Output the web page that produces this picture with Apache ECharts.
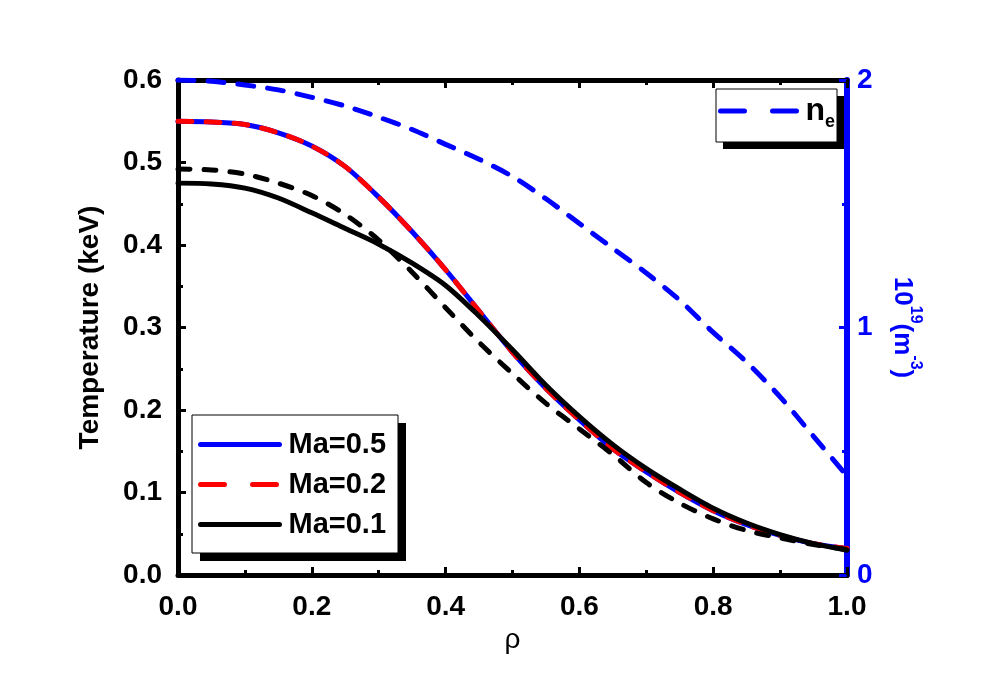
<!DOCTYPE html>
<html>
<head>
<meta charset="utf-8">
<script src="https://cdn.jsdelivr.net/npm/echarts@6/dist/echarts.min.js"></script>
<style>html,body{margin:0;padding:0;background:#fff}#c{width:986px;height:690px}</style>
</head>
<body>
<div id="c"></div>
<script>
const rho = [0,0.05,0.1,0.15,0.2,0.25,0.3,0.35,0.4,0.45,0.5,0.55,0.6,0.65,0.7,0.75,0.8,0.85,0.9,0.95,1.0];
const tMa05 = [0.550,0.549,0.546,0.536,0.520,0.495,0.458,0.416,0.370,0.320,0.270,0.226,0.188,0.153,0.125,0.100,0.078,0.061,0.048,0.038,0.032];
const tMa02 = [0.550,0.549,0.546,0.536,0.520,0.495,0.458,0.416,0.370,0.320,0.270,0.226,0.188,0.153,0.125,0.100,0.078,0.061,0.048,0.038,0.032];
const tMa01 = [0.475,0.474,0.469,0.457,0.439,0.420,0.401,0.378,0.351,0.314,0.273,0.230,0.192,0.158,0.129,0.104,0.081,0.063,0.049,0.038,0.030];
const tMa01dash = [0.492,0.491,0.486,0.475,0.460,0.437,0.406,0.367,0.324,0.282,0.244,0.208,0.177,0.146,0.112,0.087,0.068,0.054,0.045,0.037,0.031];
const ne = [2.00,1.995,1.98,1.96,1.93,1.895,1.85,1.80,1.74,1.68,1.61,1.52,1.42,1.32,1.22,1.11,0.98,0.86,0.72,0.56,0.40];

const pair = arr => rho.map((r,i)=>[r,arr[i]]);
const FONT = 'Liberation Sans';
const chart = echarts.init(document.getElementById('c'), null, {renderer:'canvas'});

const axisCommonX = {
  type:'value', min:0, max:1, interval:0.2,
  splitLine:{show:false},
  axisLine:{show:true, onZero:false, lineStyle:{color:'#000', width:5}},
  axisTick:{show:true, inside:true, length:8, lineStyle:{color:'#000', width:3}},
  minorTick:{show:true, splitNumber:2, length:5, lineStyle:{color:'#000', width:3}},
  minorSplitLine:{show:false}
};

const noDot = {opacity:0};

chart.setOption({
  animation:false,
  backgroundColor:'#fff',
  grid:{left:178, right:139, top:80, bottom:115, containLabel:false},
  graphic:[
    {type:'rect', z:3, shape:{x:200, y:423, width:206, height:138}, style:{fill:'#000'}},
    {type:'rect', z:3, shape:{x:192, y:415, width:206, height:138}, style:{fill:'#fff', stroke:'#000', lineWidth:1}},
    {type:'rect', z:3, shape:{x:723, y:96, width:121, height:53}, style:{fill:'#000'}},
    {type:'rect', z:3, shape:{x:716, y:89, width:121, height:53}, style:{fill:'#fff', stroke:'#000', lineWidth:1}}
  ],
  xAxis:[
    Object.assign({}, axisCommonX, {
      position:'bottom',
      name:'ρ', nameLocation:'middle', nameGap:50,
      nameTextStyle:{fontFamily:FONT, fontSize:28, color:'#000'},
      axisLabel:{show:true, margin:18, fontFamily:FONT, fontSize:28, fontWeight:'bold', color:'#000',
        formatter:v=>v.toFixed(1)}
    }),
    Object.assign({}, axisCommonX, {
      position:'top',
      axisLabel:{show:false}
    })
  ],
  yAxis:[
    {
      type:'value', min:0, max:0.6, interval:0.1, position:'left',
      name:'Temperature (keV)', nameLocation:'middle', nameGap:74,
      nameTextStyle:{fontFamily:FONT, fontSize:28, fontWeight:'bold', color:'#000'},
      splitLine:{show:false},
      axisLine:{show:true, onZero:false, lineStyle:{color:'#000', width:5}},
      axisTick:{show:true, inside:true, length:8, lineStyle:{color:'#000', width:3}},
      minorTick:{show:true, splitNumber:2, length:5, lineStyle:{color:'#000', width:3}},
      axisLabel:{margin:16, fontFamily:FONT, fontSize:28, fontWeight:'bold', color:'#000', formatter:v=>v.toFixed(1)}
    },
    {
      type:'value', min:0, max:2, interval:1, position:'right',
      name:'{a|10}{s|19}{a|(m}{s|-3}{a|)}', nameLocation:'middle', nameGap:42, nameRotate:-90,
      nameTextStyle:{
        fontFamily:FONT, fontWeight:'bold', color:'#0000ff', fontSize:26,
        rich:{
          a:{fontFamily:FONT, fontWeight:'bold', color:'#0000ff', fontSize:26, lineHeight:34, verticalAlign:'bottom'},
          s:{fontFamily:FONT, fontWeight:'bold', color:'#0000ff', fontSize:16, lineHeight:34, verticalAlign:'top'}
        }
      },
      splitLine:{show:false},
      axisLine:{show:true, onZero:false, lineStyle:{color:'#0000ff', width:6}},
      axisTick:{show:true, inside:true, length:8, lineStyle:{color:'#0000ff', width:3}},
      minorTick:{show:true, splitNumber:2, length:5, lineStyle:{color:'#0000ff', width:3}},
      axisLabel:{margin:10, fontFamily:FONT, fontSize:28, fontWeight:'bold', color:'#0000ff'}
    }
  ],
  legend:[
    {
      data:[
        {name:'Ma=0.5', itemStyle:noDot, lineStyle:{width:5, color:'#0000ff', type:'solid', cap:'round'}},
        {name:'Ma=0.2', itemStyle:noDot, lineStyle:{width:5, color:'#ff0000', type:[24,28], cap:'round'}},
        {name:'Ma=0.1', itemStyle:noDot, lineStyle:{width:5, color:'#000', type:'solid', cap:'round'}}
      ],
      orient:'vertical', left:192, top:415, z:5,
      itemWidth:79, itemHeight:12, itemGap:11,
      padding:[15,6,10,6],
      textStyle:{fontFamily:FONT, fontSize:29, fontWeight:'bold', color:'#000', padding:[0,0,0,4]},
      selectedMode:false
    },
    {
      data:[{name:'ne', itemStyle:noDot, lineStyle:{width:5, color:'#0000ff', type:[24,28], cap:'round'}}],
      left:716, top:89, z:5,
      itemWidth:80, itemHeight:12,
      padding:[6,8,6,2],
      formatter:()=>'{n|n}{e|e}',
      textStyle:{
        fontFamily:FONT, color:'#000',
        rich:{
          n:{fontFamily:FONT, fontSize:32, fontWeight:'bold', color:'#000', lineHeight:40, verticalAlign:'middle'},
          e:{fontFamily:FONT, fontSize:18, fontWeight:'bold', color:'#000', lineHeight:40, verticalAlign:'bottom'}
        }
      },
      selectedMode:false
    }
  ],
  series:[
    {name:'Ma=0.5', type:'line', data:pair(tMa05), smooth:0.3, symbol:'none', xAxisIndex:0, yAxisIndex:0,
      color:'#0000ff', lineStyle:{color:'#0000ff', width:5, cap:'round'}},
    {name:'Ma=0.2', type:'line', data:pair(tMa02), smooth:0.3, symbol:'none', xAxisIndex:0, yAxisIndex:0,
      color:'#ff0000', lineStyle:{color:'#ff0000', width:5, type:[14,14], cap:'round'}},
    {name:'Ma=0.1', type:'line', data:pair(tMa01), smooth:0.3, symbol:'none', xAxisIndex:0, yAxisIndex:0,
      color:'#000', lineStyle:{color:'#000', width:5, cap:'round'}},
    {name:'Ma=0.1 (dashed)', type:'line', data:pair(tMa01dash), smooth:0.3, symbol:'none', xAxisIndex:0, yAxisIndex:0,
      color:'#000', lineStyle:{color:'#000', width:5, type:[12,14], cap:'round'}},
    {name:'ne', type:'line', data:pair(ne), smooth:0.3, symbol:'none', xAxisIndex:0, yAxisIndex:1,
      color:'#0000ff', lineStyle:{color:'#0000ff', width:5, type:[16,14], cap:'round'}}
  ]
});
</script>
</body>
</html>
